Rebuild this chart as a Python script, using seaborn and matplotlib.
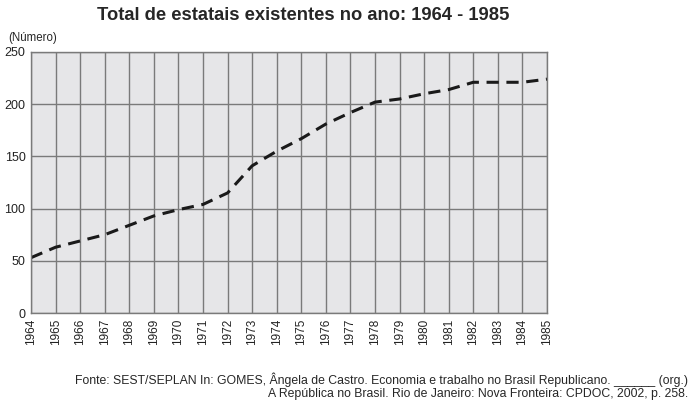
import matplotlib
matplotlib.use("Agg")
import matplotlib.pyplot as plt
import seaborn as sns
import pandas as pd

anos = list(range(1964, 1986))
estatais = [53, 63, 69, 75, 84, 93, 99, 104, 115, 141, 155,
            167, 181, 192, 202, 205, 210, 214, 221, 221, 221, 224]
y_ticks = [0, 50, 100, 150, 200, 250]

df = pd.DataFrame({"ano": anos, "estatais": estatais})

sns.set_style("whitegrid")
plt.rcParams["font.family"] = ["Liberation Sans", "DejaVu Sans"]

fig = plt.figure(figsize=(6.96, 4.01), dpi=100)
ax = fig.add_axes([31 / 696, 1 - 313 / 401, 516 / 696, 261 / 401])
ax.set_facecolor("#e6e6e8")

sns.lineplot(data=df, x="ano", y="estatais", ax=ax, color="#1a1a1a",
             linewidth=2.2, linestyle=(0, (4, 2.5)))

ax.set_xlim(1964, 1985)
ax.set_ylim(0, 250)
ax.set_xticks(anos)
ax.set_xticklabels([str(a) for a in anos], rotation=90, fontsize=8.5)
ax.set_yticks(y_ticks)
ax.set_yticklabels([str(v) for v in y_ticks], fontsize=9)
ax.grid(True, color="#7a7a7a", linewidth=1)
ax.set_axisbelow(True)
for s in ax.spines.values():
    s.set_color("#7a7a7a")
    s.set_linewidth(1)
ax.tick_params(axis="both", length=0, pad=4, colors="#222222")
ax.set_xlabel("")
ax.set_ylabel("")

fig.text(303 / 696, 1 - 15 / 401, "Total de estatais existentes no ano: 1964 - 1985",
         ha="center", va="center", fontsize=13.2, fontweight="bold")
fig.text(8 / 696, 1 - 38 / 401, "(Número)", ha="left", va="center", fontsize=8.3)
fig.text(688 / 696, 1 - 380 / 401,
         "Fonte: SEST/SEPLAN In: GOMES, Ângela de Castro. Economia e trabalho no Brasil Republicano. ______ (org.)",
         ha="right", va="center", fontsize=8.8)
fig.text(688 / 696, 1 - 394 / 401,
         "A República no Brasil. Rio de Janeiro: Nova Fronteira: CPDOC, 2002, p. 258.",
         ha="right", va="center", fontsize=8.8)

fig.savefig("out.png", dpi=100)
